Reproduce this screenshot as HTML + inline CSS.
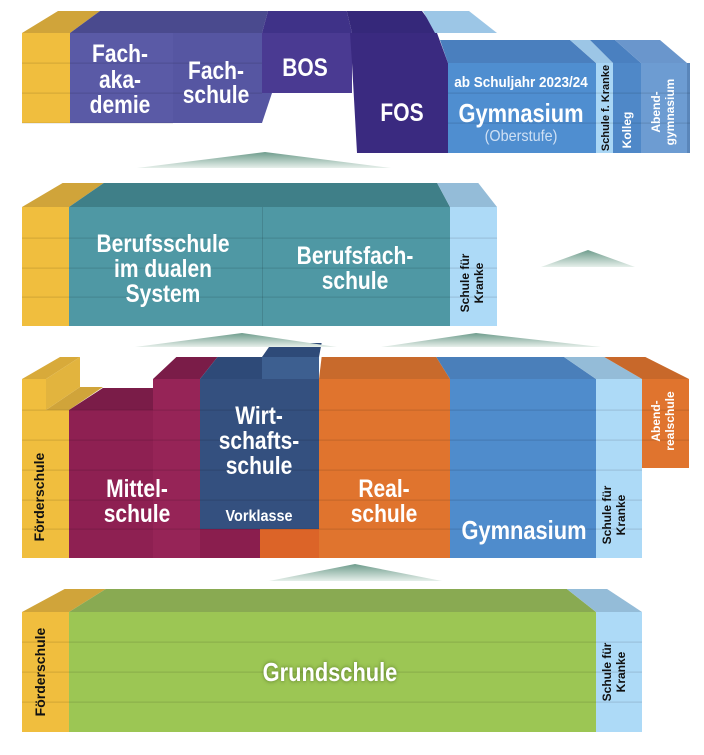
<!DOCTYPE html>
<html><head><meta charset="utf-8">
<style>
html,body{margin:0;padding:0;background:#fff;}
svg{display:block;}
.t{font-family:"Liberation Sans",sans-serif;font-weight:bold;fill:#fff;text-anchor:middle;}
.v{font-family:"Liberation Sans",sans-serif;font-weight:bold;text-anchor:middle;}
</style></head>
<body>
<svg id="s" width="704" height="755" viewBox="0 0 704 755" xmlns="http://www.w3.org/2000/svg">
<defs>
<linearGradient id="tri" x1="0" y1="0" x2="0" y2="1">
<stop offset="0" stop-color="#6e9c8c"/><stop offset="1" stop-color="#e6efea"/>
</linearGradient>
</defs>
<g id="shapes"></g>
<polygon points="137,168 265,152 391,168" fill="url(#tri)"/>
<polygon points="541,267 588,250 635,267" fill="url(#tri)"/>
<polygon points="135,347 242,333 337,347" fill="url(#tri)"/>
<polygon points="381,347 476,333 601,347" fill="url(#tri)"/>
<polygon points="269,581 355,564 442,581" fill="url(#tri)"/>
<g id="texts">
<text class="t" font-size="25" x="120" y="62">Fach-</text>
<text class="t" font-size="25" x="120" y="88">aka-</text>
<text class="t" font-size="25" x="120" y="113">demie</text>
<text class="t" font-size="25" x="216" y="79">Fach-</text>
<text class="t" font-size="25" x="216" y="103">schule</text>
<text class="t" font-size="25" x="305" y="76">BOS</text>
<text class="t" font-size="25" x="402" y="121">FOS</text>
<text class="t" font-size="15" x="521" y="87">ab Schuljahr 2023/24</text>
<text class="t" font-size="26" x="521" y="122">Gymnasium</text>
<text class="t" font-size="16" x="521" y="141" style="font-weight:normal;fill:#cfe0f4">(Oberstufe)</text>
<text class="v" font-size="11" fill="#111" transform="translate(609,108) rotate(-90)">Schule f. Kranke</text>
<text class="v" font-size="12" fill="#fff" transform="translate(631,130) rotate(-90)">Kolleg</text>
<text class="v" font-size="12" fill="#fff" transform="translate(660,112) rotate(-90)">Abend-</text>
<text class="v" font-size="12" fill="#fff" transform="translate(674,112) rotate(-90)">gymnasium</text>
<text class="t" font-size="25" x="163" y="252">Berufsschule</text>
<text class="t" font-size="25" x="163" y="277">im dualen</text>
<text class="t" font-size="25" x="163" y="302">System</text>
<text class="t" font-size="25" x="355" y="264">Berufsfach-</text>
<text class="t" font-size="25" x="355" y="289">schule</text>
<text class="v" font-size="12" fill="#111" transform="translate(469,283) rotate(-90)">Schule für</text>
<text class="v" font-size="12" fill="#111" transform="translate(483,283) rotate(-90)">Kranke</text>
<text class="v" font-size="14" fill="#111" transform="translate(44,497) rotate(-90)">Förderschule</text>
<text class="t" font-size="25" x="137" y="497">Mittel-</text>
<text class="t" font-size="25" x="137" y="522">schule</text>
<text class="t" font-size="25" x="259" y="424">Wirt-</text>
<text class="t" font-size="25" x="259" y="449">schafts-</text>
<text class="t" font-size="25" x="259" y="474">schule</text>
<text class="t" font-size="16" x="259" y="521">Vorklasse</text>
<text class="t" font-size="25" x="384" y="497">Real-</text>
<text class="t" font-size="25" x="384" y="522">schule</text>
<text class="t" font-size="26" x="524" y="539">Gymnasium</text>
<text class="v" font-size="12" fill="#111" transform="translate(611,515) rotate(-90)">Schule für</text>
<text class="v" font-size="12" fill="#111" transform="translate(625,515) rotate(-90)">Kranke</text>
<text class="v" font-size="12" fill="#fff" transform="translate(660,421) rotate(-90)">Abend-</text>
<text class="v" font-size="12" fill="#fff" transform="translate(674,421) rotate(-90)">realschule</text>
<text class="v" font-size="14" fill="#111" transform="translate(45,672) rotate(-90)">Förderschule</text>
<text class="t" font-size="26" x="330" y="681" style="filter:drop-shadow(0 0 2px rgba(60,90,20,0.7))">Grundschule</text>
<text class="v" font-size="12" fill="#111" transform="translate(611,672) rotate(-90)">Schule für</text>
<text class="v" font-size="12" fill="#111" transform="translate(625,672) rotate(-90)">Kranke</text>
</g>
</svg>
<script>
var NS="http://www.w3.org/2000/svg";
var G=document.getElementById("shapes");
function poly(pts,fill){var p=document.createElementNS(NS,"polygon");p.setAttribute("points",pts.map(function(q){return q[0]+","+q[1]}).join(" "));p.setAttribute("fill",fill);G.appendChild(p);}
function rect(x1,y1,x2,y2,fill){poly([[x1,y1],[x2,y1],[x2,y2],[x1,y2]],fill);}
function topf(x1,x2,y,d,cx,fill){var a=0.875;var b1=cx+a*(x1-cx),b2=cx+a*(x2-cx);poly([[x1,y],[x2,y],[b2,y-d],[b1,y-d]],fill);}
function lines(x1,x2,ys){ys.forEach(function(y){rect(x1,y-0.5,x2,y+0.7,"rgba(0,0,0,0.10)");});}

/* ROW 1 */
var c1=310;
topf(22,70,33,22,c1,"#d0a43a");
topf(70,262,33,22,c1,"#4a4a8e");
topf(262,352,33,22,c1,"#3f3288");
topf(352,438,33,22,c1,"#35287a");
poly([[435,33],[497,33],[469,11],[423,11]],"#9cc6e6");
rect(22,33,70,123,"#f0be3e");
rect(70,33,173,123,"#5a5aa6");
poly([[173,33],[262,33],[272,93],[262,123],[173,123]],"#5656a2");
rect(262,33,352,93,"#4a3a92");
poly([[350,33],[437,33],[448,63],[448,153],[357,153],[352,63]],"#3a2a80");
poly([[440,40],[570,40],[596,63],[448,63]],"#4a7fbe");
poly([[570,40],[590,40],[613,63],[596,63]],"#9cc6e6");
poly([[590,40],[615,40],[641,63],[613,63]],"#4a80c0");
poly([[615,40],[660,40],[687,63],[641,63]],"#6a96cc");
rect(448,63,596,153,"#4f8ed0");
rect(596,63,613,153,"#a9d6f5");
rect(613,63,641,153,"#4f88c8");
rect(641,63,687,153,"#6d9cd2");
rect(687,63,690,153,"#5a86ba");
lines(22,262,[63,93]);lines(22,173,[123]);lines(448,690,[93,123]);

/* ROW 2 */
var c2=347;
topf(22,69,207,24,c2,"#d0a43a");
topf(69,450,207,24,c2,"#3f7f88");
topf(450,497,207,24,c2,"#94bcd8");
rect(22,207,69,326,"#f0be3e");
rect(69,207,450,326,"#4f98a4");
rect(450,207,497,326,"#addaf7");
rect(262,207,263,326,"rgba(0,0,0,0.12)");
lines(22,497,[238,268,297]);

/* ROW 3 */
var c3=340;
poly([[22,379],[46,379],[80,357],[60,357]],"#d8aa3a");
poly([[46,410],[69,410],[103,387],[80,387]],"#d0a43a");
poly([[46,379],[80,357],[80,387],[46,410]],"#e2b43e");
topf(69,153,410,22,c3,"#7a1c48");
topf(153,200,379,22,c3,"#7a1c48");
topf(200,262,379,22,c3,"#2e4a78");
topf(262,319,357,14,c3,"#2e4a78");
rect(262,357,319,379,"#3d5f90");
topf(319,450,379,22,c3,"#c86a2c");
topf(450,596,379,22,c3,"#4a7fba");
topf(596,642,379,22,c3,"#94bcd8");
topf(642,689,379,22,c3,"#c8682a");
rect(22,379,46,558,"#f0be3e");
rect(46,410,69,558,"#f0be3e");
rect(69,410,153,558,"#8e2052");
rect(153,379,200,558,"#962457");
rect(200,529,260,558,"#8a1e4e");
rect(260,529,319,558,"#dc6428");
rect(200,379,319,529,"#34507f");
rect(319,379,450,558,"#e0742e");
rect(450,379,596,558,"#4f8ccc");
rect(596,379,642,558,"#addaf7");
rect(642,379,689,468,"#e0742e");
lines(22,642,[440,470,500,529]);lines(22,689,[410]);lines(642,689,[440]);

/* ROW 4 */
var c4=363;
topf(22,69,612,23,c4,"#d0a43a");
topf(69,596,612,23,c4,"#89aa52");
topf(596,642,612,23,c4,"#94bcd8");
rect(22,612,69,732,"#f0be3e");
rect(69,612,596,732,"#9cc654");
rect(596,612,642,732,"#addaf7");
lines(22,642,[642,672,702]);

/* condense bold white labels */
var ts=document.querySelectorAll("text.t");
for(var i=0;i<ts.length;i++){var t=ts[i];var x=+t.getAttribute("x"),y=+t.getAttribute("y");var sx=(+t.getAttribute("font-size")>=20)?0.84:0.9;t.setAttribute("x",0);t.setAttribute("y",0);t.setAttribute("transform","translate("+x+","+y+") scale("+sx+",1)");}
</script>
</body></html>
